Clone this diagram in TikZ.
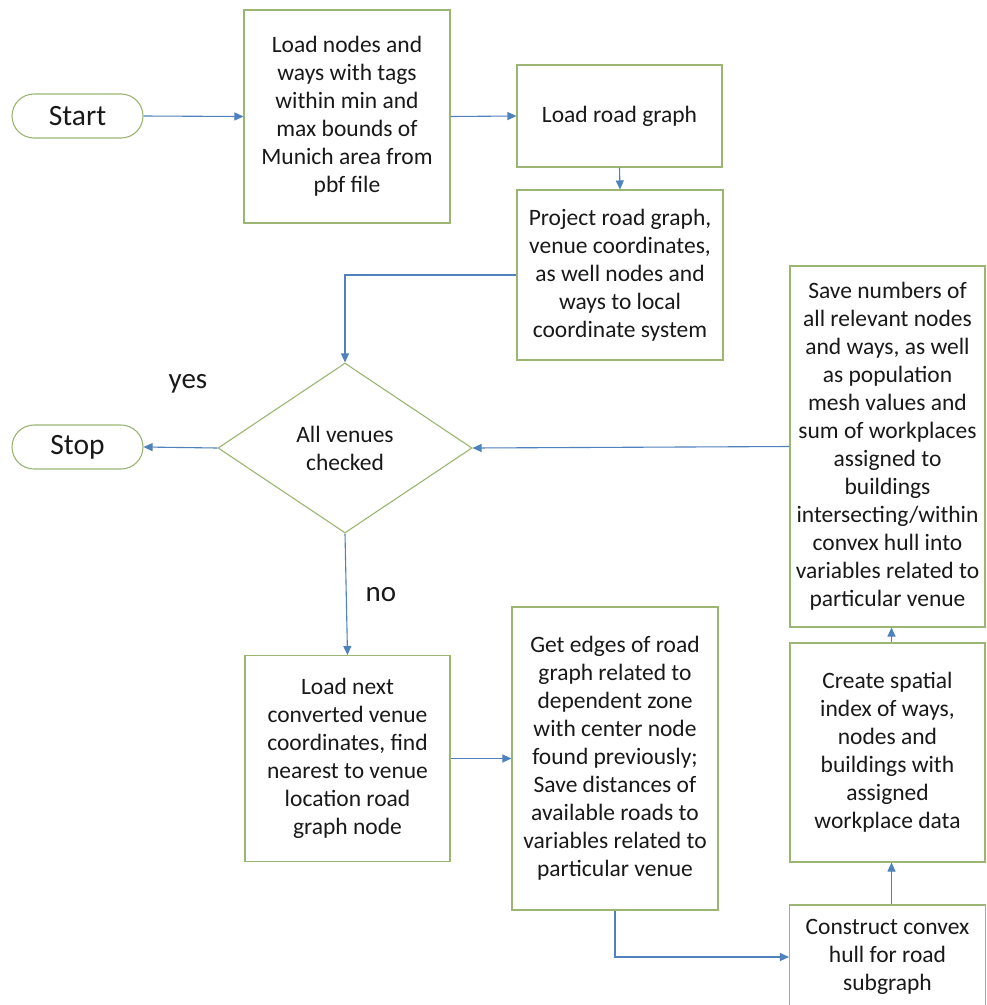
\documentclass[tikz,border=0pt]{standalone}
\usepackage{fontspec}
\setmainfont{Carlito}
\usetikzlibrary{shapes.geometric,arrows.meta}
\definecolor{boxline}{RGB}{155,182,115}
\definecolor{flow}{RGB}{79,129,189}
\definecolor{ink}{RGB}{25,25,25}
\tikzset{
  procbox/.style={draw=boxline, line width=1.1pt, fill=white, rectangle, inner sep=0pt,
    align=center, text=ink, font=\fontsize{23.5}{28}\selectfont},
  terminal/.style={draw=boxline, line width=1.1pt, fill=white, rectangle, rounded corners=22pt,
    inner sep=0pt, minimum width=131pt, minimum height=44pt, text=ink,
    font=\fontsize{29.5}{34}\selectfont},
  decision/.style={draw=boxline, line width=1.1pt, fill=white, diamond, aspect=1.5, inner sep=0pt,
    minimum width=254pt, minimum height=170pt, align=center, text=ink,
    font=\fontsize{23.5}{28}\selectfont},
  flowarrow/.style={draw=flow, line width=1.1pt, -{Triangle[length=9pt,width=8pt]}},
  answer/.style={text=ink, font=\fontsize{29}{34}\selectfont}
}
\begin{document}
\begin{tikzpicture}[x=1pt,y=-1pt]
\useasboundingbox[fill=white] (0,0) rectangle (987,1005);

% terminals
\node[terminal] (start) at (77.5,116) {Start};
\node[terminal] (stop) at (77.5,447) {Stop};

% top row
\node[procbox, minimum width=206pt, minimum height=213pt] (loadnodes) at (347,116.5)
  {Load nodes and\\ways with tags\\within min and\\max bounds of\\Munich area from\\pbf file};
\node[procbox, minimum width=205pt, minimum height=102pt] (loadroad) at (619.5,116)
  {Load road graph};
\node[procbox, minimum width=206pt, minimum height=170pt] (project) at (620,275)
  {Project road graph,\\venue coordinates,\\as well nodes and\\ways to local\\coordinate system};

% decision
\node[decision] (check) at (345,448) {All venues\\checked};

% loop body
\node[procbox, minimum width=205pt, minimum height=206pt] (loadnext) at (347.5,758.5)
  {Load next\\converted venue\\coordinates, find\\nearest to venue\\location road\\graph node};
\node[procbox, minimum width=206pt, minimum height=303pt] (edges) at (615,758.5)
  {Get edges of road\\graph related to\\dependent zone\\with center node\\found previously;\\Save distances of\\available roads to\\variables related to\\particular venue};
\node[procbox, minimum width=196pt, minimum height=104pt] (hull) at (887.5,957)
  {Construct convex\\hull for road\\subgraph};
\node[procbox, minimum width=195pt, minimum height=219pt] (spatial) at (887.5,752.5)
  {Create spatial\\index of ways,\\nodes and\\buildings with\\assigned\\workplace data};
\node[procbox, minimum width=195pt, minimum height=361pt] (save) at (887.5,446.5)
  {Save numbers of\\all relevant nodes\\and ways, as well\\as population\\mesh values and\\sum of workplaces\\assigned to\\buildings\\intersecting/within\\convex hull into\\variables related to\\particular venue};

% branch labels
\node[answer] (yes) at (188,384) {yes};
\node[answer] (no) at (381,595) {no};

% connectors
\draw[flowarrow] (start.east) -- (loadnodes.west);
\draw[flowarrow] (loadnodes.east) -- (loadroad.west);
\draw[flowarrow] (loadroad.south) -- (project.north);
\draw[flowarrow] (project.west) -| (check.north);
\draw[flowarrow] (check.west) -- (stop.east);
\draw[flowarrow] (check.south) -- (loadnext.north);
\draw[flowarrow] (loadnext.east) -- (edges.west);
\draw[flowarrow] (edges.south) |- (hull.west);
\draw[flowarrow] ([xshift=4pt]hull.north) -- ([xshift=4pt]spatial.south);
\draw[flowarrow] ([xshift=4pt]spatial.north) -- ([xshift=4pt]save.south);
\draw[flowarrow] (save.west) -- (check.east);
\end{tikzpicture}
\end{document}
